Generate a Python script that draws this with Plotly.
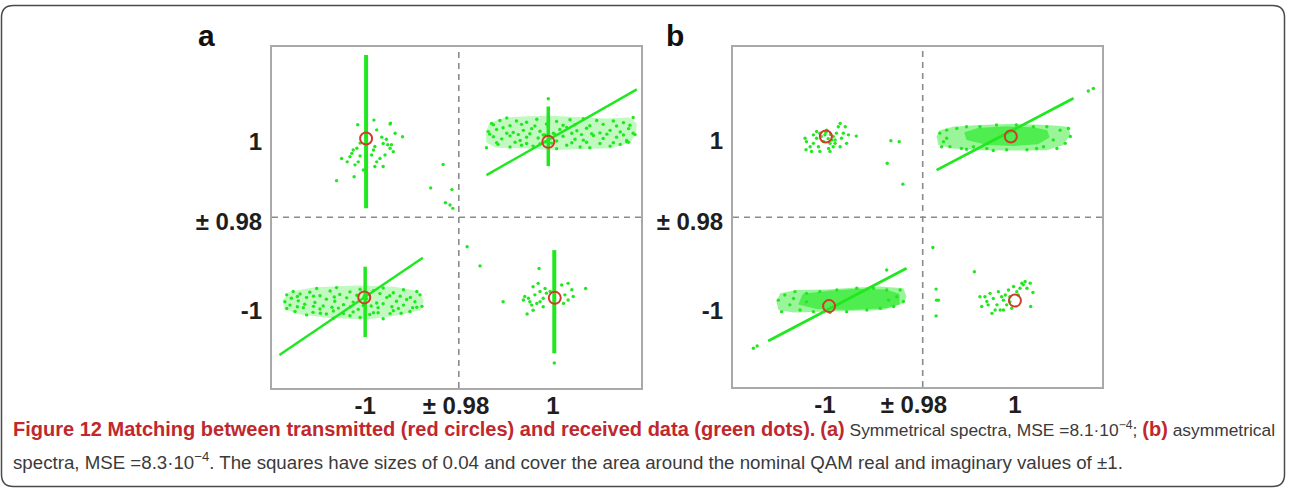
import plotly.graph_objects as go

# ---------------------------------------------------------------------------
# Data.  Received symbols are stored as deviations from the nominal QAM point
# of their quadrant, in units of 1e-4.  Each quadrant spans +/-0.02 around it.
# ---------------------------------------------------------------------------
NOMINAL = {"TL": (-1.0, 1.0), "TR": (1.0, 1.0), "BL": (-1.0, -1.0), "BR": (1.0, -1.0)}

# transmitted symbols (red circles)
A_TX_I = [-1.0001, 0.9994, -1.0005, 1.0008]
A_TX_Q = [0.9985, 0.9977, -0.9988, -0.9989]
B_TX_I = [-1.0010, 0.9991, -1.0003, 1.0000]
B_TX_Q = [0.9990, 0.9990, -1.0009, -0.9996]

# ---- (a) symmetrical spectra ----
A_TL_DI = [22, 33, 36, 43, 54, 51, 62, 78, 52, 58, 18, 15, -21, -32, -36, -54, -42, -14, -18, -25,
           -7, -27, -65, 36, 29, 11, 22, -14, -29, 40, 18, 51, 46, -19, 16,
           166, 139, 185, 171, 181, 187]
A_TL_DQ = [5, -12, -27, -17, -30, -38, -3, -11, 21, -46, -34, -42, -38, -50, -58, -62, -70, -56, -70, -77,
           -89, -105, -114, -81, -62, -54, -70, -26, -42, -54, -81, 19, -30, 17, 28,
           -76, -131, -135, -166, -171, -179]
A_TL_BAND_DI = -1
A_TL_BAND_DQ = [181, -179]

A_TR_DI = [-129, -111, -96, -75, -53, -31, 12, 41, 70, 99, 135, 157, 178,
           -136, -118, -104, -82, -60, -42, -24, 19, 34, 56, 77, 106, 128, 150, 168,
           -125, -107, -89, -67, -53, -28, 12, 26, 52, 70, 92, 113, 142, 164, 182,
           -140, -115, -89, -64, -39, -24, 12, 34, 63, 84, 128, 150, 168,
           -125, -89, -64, -35, -10, 26, 52, 84, 113, 142, 171,
           -133, -96, -71, -46, -13, 8, 45, 66, 88, 121, 157, 178,
           -118, -78, -53, -13, 1, 45, 77, 106, 135, 164,
           -6, -17, 5, -10, -6]
A_TR_DQ = [20, 27, 33, 26, 23, 30, 25, 29, 31, 27, 26, 22, 34,
           1, 6, 10, -1, 4, 8, 2, 6, 11, 3, 9, -2, 4, 0, 8,
           -11, -16, -9, -20, -12, -14, -21, -10, -17, -19, -8, -15, -12, -20, -6,
           -37, -29, -35, -31, -33, -28, -39, -31, -35, -37, -33, -29, -24,
           17, 15, 18, 14, 19, 16, 17, 15, 18, 14, 16,
           -5, -3, -6, -4, -7, -5, -3, -6, -4, -5, -7, -3,
           -25, -24, -27, -23, -26, -25, -24, -27, -25, -23,
           12, -7, -3, -23, 78]
A_TR_BAND_DI = -6
A_TR_BAND_DQ = [60, -80]
A_TR_LINE_DI = [-140, 186]
A_TR_LINE_DQ = [-101, 100]
A_TR_HULL_DI = [-142, -132, -100, -50, 0, 60, 120, 170, 186, 184, 172, 130, 60, 0, -60, -120, -140]
A_TR_HULL_DQ = [2, 22, 34, 37, 38, 35, 32, 34, 20, -5, -24, -38, -41, -42, -38, -37, -25]

A_BL_DI = [-108, -65, -14, 36, 80,
           -159, -123, -79, -36, 15, 58, 109,
           -173, -144, -101, -58, -21, 29, 73, 116,
           -163, -130, -87, -43, 0, 44, 87,
           -177, -148, -112, -69, -29, 22, 65, 105,
           -166, -134, -94, -50, -7, 36, 80, 120,
           -173, -137, -101, -61, -18, 25, 69, 109,
           -155, -116, -72, -29, 15, 58, 94,
           -130, -87, -36, 7, 51,
           -72, -14, 36,
           -150, -115, -70, -5, 50, 95,
           -150, -115, -75, -35, 10, 55, 100,
           -100, -50, 25, 75]
A_BL_DQ = [33, 35, 31, 34, 30,
           26, 24, 27, 25, 28, 23, 26,
           18, 20, 16, 19, 17, 21, 15, 18,
           10, 12, 8, 11, 9, 12, 7,
           2, 4, 0, 3, 1, -1, 3, 2,
           -6, -4, -8, -5, -7, -3, -6, -9,
           -14, -12, -15, -13, -16, -12, -14, -11,
           -21, -23, -20, -22, -24, -19, -21,
           -29, -27, -31, -28, -26,
           -37, -35, -38,
           14, 15, 13, 14, 16, 12,
           -10, -9, -11, -10, -8, -10, -12,
           -25, -26, -24, -25]
A_BL_BAND_DI = -3
A_BL_BAND_DQ = [84, -81]
A_BL_LINE_DI = [-189, 122]
A_BL_LINE_DQ = [-123, 105]
A_BL_HULL_DI = [-182, -168, -112, -20, 60, 112, 124, 118, 70, 0, -80, -150, -178]
A_BL_HULL_DQ = [5, 25, 36, 40, 37, 27, 5, -18, -30, -40, -36, -27, -15]

A_BR_DI = [-26, -28, -39, -49, -46, -35, -24, -17, -31, -42, -57, -13, -10, 23, 37, 45, 37, 30, 48, 27,
           -17, -39, -24, -2, -60, -104, 75, -52, -182, -154, 7]
A_BR_DQ = [80, 45, 37, 10, 2, 18, 26, 10, -2, -6, 14, 33, 22, 41, 45, 30, 6, 18, 14, -2,
           -10, -18, 2, 26, 6, 2, 33, -27, 131, 86, -142]
A_BR_BAND_DI = 7
A_BR_BAND_DQ = [123, -119]

# ---- (b) asymmetrical spectra ----
B_TL_DI = [-55, -52, -53, -44, -37, -30, -37, -26, -23, -15, -8, -4, 3, -1, 6, 10, 13, 17, 21, 24,
           28, 32, 35, 39, 56, -23, -41, -30, 6, -12, 21, -1, -20, -5, 0, -10, 10,
           131, 149, 123, 157]
B_TL_DQ = [-14, -22, -41, -34, -6, -14, -26, -34, -2, -22, 5, -38, -18, -45, -10, -26, -2, 13, 21, -14,
           -2, 13, -26, -6, -9, -45, -45, 2, -34, -6, -34, -26, -10, -15, -5, 0, -18,
           -20, -22, -73, -122]

B_TR_DI = [-163, -155, -148, -141, -126, -116, -105, -90, -76, -61, -40, -18, 3, 26, 40, 62, 69, 83, 98, 109,
           116, 120, 91, 47, -47, -105, -148, -159, 159, 170]
B_TR_DQ = [-2, -22, 5, -34, 9, -38, 13, -34, 13, -38, 17, -41, 17, -41, 13, -34, 13, -18, 5, -26,
           9, -10, -38, -38, -43, -40, -14, -34, 97, 103]
B_TR_LINE_DI = [-170, 127]
B_TR_LINE_DQ = [-89, 80]
B_TR_HULL_DI = [-170, -163, -134, -76, -3, 69, 116, 120, 105, 69, -3, -76, -134, -166]
B_TR_HULL_DQ = [-10, 5, 13, 17, 20, 17, 13, -6, -30, -42, -43, -42, -38, -30]
B_TR_CORE_DI = [-110, -80, -20, 40, 70, 75, 50, 0, -60, -105]
B_TR_CORE_DQ = [0, 10, 14, 12, 5, -12, -28, -32, -30, -18]

B_BL_DI = [-113, -106, -99, -88, -77, -66, -52, -37, -23, -1, 14, 35, 57, 79, 93, 108, 122, 137, 151, 158,
           144, 122, 126, -52, -80, -167, -159]
B_BL_DQ = [5, -22, 17, -6, 25, -18, 21, -22, 25, -24, 29, -22, 33, -18, 33, -14, 29, -10, 29, 2,
           13, 76, 5, 1, 9, -108, -103]
B_BL_LINE_DI = [-135, 165]
B_BL_LINE_DQ = [-91, 80]
B_BL_HULL_DI = [-117, -109, -73, -8, 57, 108, 158, 165, 158, 115, 57, -15, -80, -113]
B_BL_HULL_DQ = [2, 21, 29, 30, 35, 37, 33, 13, -2, -18, -20, -22, -24, -18]
B_BL_CORE_DI = [-60, 0, 60, 120, 150, 150, 120, 40, -30, -70]
B_BL_CORE_DQ = [20, 28, 32, 30, 20, -5, -14, -18, -16, -5]

B_BR_DI = [-76, -72, -61, -54, -50, -47, -39, -36, -32, -25, -21, -18, -14, -11, -7, -3, 4, 7, 11, 15,
           18, 22, 26, 33, 39, 34, -43, -25, -58, -65, -11, -29,
           -178, -171, -170, -166, -171, -88]
B_BR_DQ = [13, -10, 2, 21, -26, 9, -6, 25, -18, 5, 17, -6, 29, 13, -14, 37, 25, 17, 33, 45,
           41, 49, 33, 45, 23, -10, -18, -18, -6, 13, 1, 13,
           129, 31, 5, 5, -32, 72]

# axis tick labels
X_TICK_TEXT = ["-1", "\u00b1 0.98", "1"]
Y_TICK_TEXT = ["1", "\u00b1 0.98", "-1"]

EMPH = "color:#c0282d;font-size:20px"
CAPTION_1 = (f"<span style='{EMPH}'><b>Figure 12 Matching between transmitted (red circles) "
             f"and received data (green dots).</b></span> <span style='{EMPH}'><b>(a)</b></span> "
             "Symmetrical spectra, MSE =8.1\u00b710<sup>\u22124</sup>; "
             f"<span style='{EMPH}'><b>(b)</b></span> asymmetrical")
CAPTION_2 = ("spectra, MSE =8.3\u00b710<sup>\u22124</sup>. The squares have sizes of 0.04 and cover "
             "the area around the nominal QAM real and imaginary values of \u00b11.")

# ---------------------------------------------------------------------------
W, H = 1291, 488
GREEN = "#1fe81f"
RED = "#d23a2c"
FRAME = "#a9a9a9"


def fold(values):
    """Map values around +/-1 onto a continuous axis: the two 0.04-wide
    squares [-1.02,-0.98] and [0.98,1.02] meet at the +/-0.98 boundary."""
    return [v - 0.98 if v > 0 else v + 0.98 for v in values]


def to_iq(quad, di, dq):
    i0, q0 = NOMINAL[quad]
    return [i0 + d * 1e-4 for d in di], [q0 + d * 1e-4 for d in dq]


fig = go.Figure()


def add_fill(quad, di, dq, alpha, xa, ya):
    i, q = to_iq(quad, di, dq)
    fig.add_trace(go.Scatter(x=fold(i), y=fold(q), mode="lines", fill="toself",
                             fillcolor=f"rgba(31,232,31,{alpha})", line=dict(width=0),
                             hoverinfo="skip", showlegend=False, xaxis=xa, yaxis=ya))


def add_line(quad, di, dq, width, xa, ya):
    i, q = to_iq(quad, di, dq)
    fig.add_trace(go.Scatter(x=fold(i), y=fold(q), mode="lines",
                             line=dict(color=GREEN, width=width),
                             hoverinfo="skip", showlegend=False, xaxis=xa, yaxis=ya))


def add_dots(quad, di, dq, xa, ya, size=3.4):
    i, q = to_iq(quad, di, dq)
    fig.add_trace(go.Scatter(x=fold(i), y=fold(q), mode="markers",
                             marker=dict(color=GREEN, size=size, line=dict(width=0)),
                             hoverinfo="skip", showlegend=False, xaxis=xa, yaxis=ya))


# panel (a)
xa, ya = "x", "y"
add_fill("TR", A_TR_HULL_DI, A_TR_HULL_DQ, 0.28, xa, ya)
add_fill("BL", A_BL_HULL_DI, A_BL_HULL_DQ, 0.28, xa, ya)
add_line("TL", [A_TL_BAND_DI] * 2, A_TL_BAND_DQ, 4, xa, ya)
add_line("TR", [A_TR_BAND_DI] * 2, A_TR_BAND_DQ, 3.5, xa, ya)
add_line("BL", [A_BL_BAND_DI] * 2, A_BL_BAND_DQ, 3.5, xa, ya)
add_line("BR", [A_BR_BAND_DI] * 2, A_BR_BAND_DQ, 4, xa, ya)
add_line("TR", A_TR_LINE_DI, A_TR_LINE_DQ, 2.4, xa, ya)
add_line("BL", A_BL_LINE_DI, A_BL_LINE_DQ, 2.4, xa, ya)
add_dots("TL", A_TL_DI, A_TL_DQ, xa, ya)
add_dots("TR", A_TR_DI, A_TR_DQ, xa, ya)
add_dots("BL", A_BL_DI, A_BL_DQ, xa, ya)
add_dots("BR", A_BR_DI, A_BR_DQ, xa, ya)

# panel (b)
xa, ya = "x2", "y2"
add_fill("TR", B_TR_HULL_DI, B_TR_HULL_DQ, 0.45, xa, ya)
add_fill("TR", B_TR_CORE_DI, B_TR_CORE_DQ, 0.6, xa, ya)
add_fill("BL", B_BL_HULL_DI, B_BL_HULL_DQ, 0.45, xa, ya)
add_fill("BL", B_BL_CORE_DI, B_BL_CORE_DQ, 0.6, xa, ya)
add_line("TR", B_TR_LINE_DI, B_TR_LINE_DQ, 2.8, xa, ya)
add_line("BL", B_BL_LINE_DI, B_BL_LINE_DQ, 2.8, xa, ya)
add_dots("TL", B_TL_DI, B_TL_DQ, xa, ya)
add_dots("TR", B_TR_DI, B_TR_DQ, xa, ya)
add_dots("BL", B_BL_DI, B_BL_DQ, xa, ya)
add_dots("BR", B_BR_DI, B_BR_DQ, xa, ya)

# transmitted symbols on top
for tx_i, tx_q, xa, ya in [(A_TX_I, A_TX_Q, "x", "y"), (B_TX_I, B_TX_Q, "x2", "y2")]:
    fig.add_trace(go.Scatter(x=fold(tx_i), y=fold(tx_q), mode="markers",
                             marker=dict(symbol="circle-open", size=12, color=RED,
                                         line=dict(width=2, color=RED)),
                             hoverinfo="skip", showlegend=False, xaxis=xa, yaxis=ya))

tick_font = dict(family="Liberation Sans, Arial, sans-serif", size=24, color="#1e1e1e",
                 weight="bold")
axis_common = dict(showgrid=False, zeroline=False, showline=True, mirror=True,
                   linecolor=FRAME, linewidth=2, tickcolor="rgba(0,0,0,0)",
                   tickfont=tick_font, tickmode="array", fixedrange=True)
x_common = dict(ticks="", ticklabelstandoff=-5, **axis_common)
y_common = dict(ticks="outside", ticklen=3, **axis_common)

fig.update_layout(
    width=W, height=H, margin=dict(l=0, r=0, t=0, b=0),
    paper_bgcolor="white", plot_bgcolor="white", showlegend=False,
    xaxis=dict(domain=[272 / W, 641 / W], range=[-0.0405, 0.0395],
               tickvals=[-0.0203, -0.0006, 0.0204], ticktext=X_TICK_TEXT, **x_common),
    yaxis=dict(domain=[1 - 388 / H, 1 - 47 / H], range=[-0.04005, 0.03995],
               tickvals=[0.0177, -0.0009, -0.0220], ticktext=Y_TICK_TEXT, **y_common),
    xaxis2=dict(domain=[733 / W, 1102 / W], range=[-0.04113, 0.03887], anchor="y2",
                tickvals=[-0.0212, -0.0019, 0.0200], ticktext=X_TICK_TEXT, **x_common),
    yaxis2=dict(domain=[1 - 387 / H, 1 - 47 / H], range=[-0.03993, 0.04007], anchor="x2",
                tickvals=[0.0180, -0.0009, -0.0220], ticktext=Y_TICK_TEXT, **y_common),
)

# dashed +/-0.98 boundaries between the four squares
dash = dict(color="#8c8c8c", width=1.6, dash="6px,5px")
for xr, yr in [("x", "y"), ("x2", "y2")]:
    fig.add_shape(type="line", xref=xr, yref=f"{yr} domain", x0=0, x1=0, y0=0, y1=1, line=dash)
    fig.add_shape(type="line", xref=f"{xr} domain", yref=yr, x0=0, x1=1, y0=0, y1=0, line=dash)

# rounded figure frame
L, R = 1.5 / W, 1284.5 / W
T, B = 1 - 5.5 / H, 1 - 486.5 / H
rx, ry = 12 / W, 12 / H
frame_path = (f"M {L + rx},{T} L {R - rx},{T} Q {R},{T} {R},{T - ry} L {R},{B + ry} "
              f"Q {R},{B} {R - rx},{B} L {L + rx},{B} Q {L},{B} {L},{B + ry} "
              f"L {L},{T - ry} Q {L},{T} {L + rx},{T} Z")
fig.add_shape(type="path", xref="paper", yref="paper", path=frame_path,
              line=dict(color="#4a4a4a", width=1.5))

# panel letters
letter_font = dict(family="Liberation Sans, Arial, sans-serif", size=30, color="#111111")
for txt, px, py in [("<b>a</b>", 207, 36), ("<b>b</b>", 675, 36)]:
    fig.add_annotation(text=txt, x=px / W, y=1 - py / H, xref="paper", yref="paper",
                       showarrow=False, font=letter_font, xanchor="center", yanchor="middle")

# caption (two lines)
for txt, py, size in [(CAPTION_1, 429, 17.4), (CAPTION_2, 461, 18.7)]:
    fig.add_annotation(text=txt, x=11 / W, y=1 - py / H, xref="paper", yref="paper",
                       showarrow=False, xanchor="left", yanchor="middle", align="left",
                       font=dict(family="Liberation Sans, Arial, sans-serif", size=size,
                                 color="#3a3a3a"))

fig.write_html("out.html")
